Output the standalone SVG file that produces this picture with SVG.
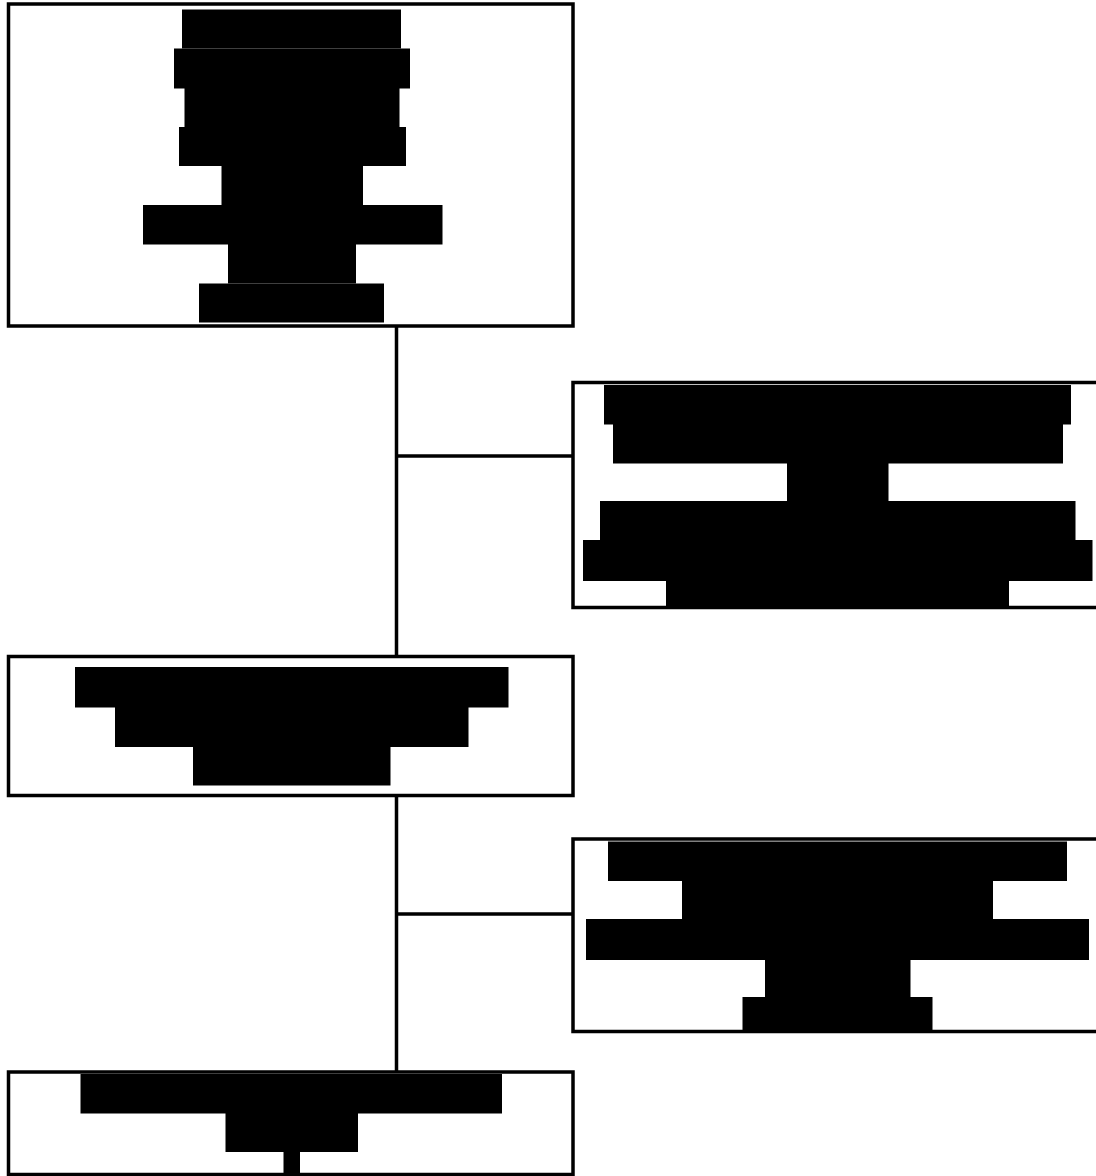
<svg xmlns="http://www.w3.org/2000/svg" width="1096" height="1176" viewBox="0 0 1096 1176">
  <style>
    .box { fill: #ffffff; stroke: #000000; stroke-width: 3.5; }
    .bar { fill: #000000; stroke: none; }
    .conn { fill: none; stroke: #000000; stroke-width: 3.5; }
  </style>
  <rect x="0" y="0" width="1096" height="1176" fill="#ffffff"/>
  <g id="connectors">
    <line class="conn" x1="396.5" y1="326" x2="396.5" y2="656.5"/>
    <line class="conn" x1="396.5" y1="456" x2="573" y2="456"/>
    <line class="conn" x1="396.5" y1="795.5" x2="396.5" y2="1072"/>
    <line class="conn" x1="396.5" y1="914" x2="573" y2="914"/>
  </g>
  <g id="node1">
    <rect class="box" x="8.5" y="4" width="564.5" height="322"/>
    <rect class="bar" x="182" y="9.5" width="219" height="39"/>
    <rect class="bar" x="174" y="48.5" width="236" height="40"/>
    <rect class="bar" x="184.5" y="88" width="215" height="39"/>
    <rect class="bar" x="179" y="127" width="227" height="39"/>
    <rect class="bar" x="221.5" y="166" width="141.5" height="39"/>
    <rect class="bar" x="143" y="205" width="299.5" height="39.5"/>
    <rect class="bar" x="228" y="244" width="128" height="39.5"/>
    <rect class="bar" x="199" y="283.5" width="185" height="39"/>
  </g>
  <g id="node2">
    <rect class="box" x="573" y="382.5" width="530" height="225"/>
    <rect class="bar" x="604" y="385" width="467" height="39.5"/>
    <rect class="bar" x="613" y="424" width="450" height="39.5"/>
    <rect class="bar" x="787" y="463" width="101.5" height="38.5"/>
    <rect class="bar" x="600" y="501" width="475.5" height="39.5"/>
    <rect class="bar" x="583" y="540" width="509.5" height="41"/>
    <rect class="bar" x="666" y="580.5" width="343" height="28.5"/>
  </g>
  <g id="node3">
    <rect class="box" x="8.5" y="656.5" width="564.5" height="139"/>
    <rect class="bar" x="75" y="667" width="433.5" height="40.5"/>
    <rect class="bar" x="115" y="707" width="353.5" height="40"/>
    <rect class="bar" x="193" y="746.5" width="197.5" height="39"/>
  </g>
  <g id="node4">
    <rect class="box" x="573" y="839" width="530" height="192.5"/>
    <rect class="bar" x="608" y="841.5" width="459" height="39.5"/>
    <rect class="bar" x="682" y="880.5" width="311" height="39"/>
    <rect class="bar" x="586" y="919" width="503" height="41"/>
    <rect class="bar" x="765" y="959.5" width="145.5" height="38"/>
    <rect class="bar" x="742.5" y="997" width="190" height="35"/>
  </g>
  <g id="node5">
    <rect class="box" x="8.5" y="1072" width="564.5" height="102.5"/>
    <rect class="bar" x="80.5" y="1074" width="421.5" height="39.5"/>
    <rect class="bar" x="225.5" y="1113" width="132.5" height="39"/>
    <rect class="bar" x="283.5" y="1151.5" width="16.5" height="24.5"/>
  </g>
</svg>
